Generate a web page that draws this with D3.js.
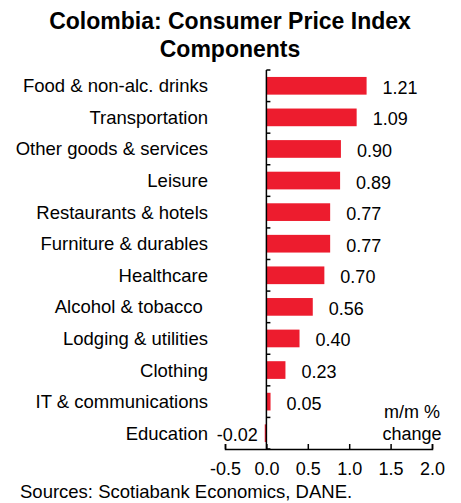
<!DOCTYPE html>
<html lang="en">
<head>
  <meta charset="UTF-8">
  <title>Colombia CPI Components</title>
  <script src="https://d3js.org/d3.v7.min.js"></script>
  <style>
    body { margin: 0; background: #fff; font-family: "Liberation Sans", Arial, sans-serif; }
    svg text { fill: #000; white-space: pre; }
  </style>
</head>
<body>
  <svg id="chart" width="461" height="503"></svg>
  <script>
    const categories = [
      'Food & non-alc. drinks', 'Transportation', 'Other goods & services', 'Leisure',
      'Restaurants & hotels', 'Furniture & durables', 'Healthcare', 'Alcohol & tobacco ',
      'Lodging & utilities', 'Clothing', 'IT & communications', 'Education'
    ];
    const values = [1.21, 1.09, 0.90, 0.89, 0.77, 0.77, 0.70, 0.56, 0.40, 0.23, 0.05, -0.02];
    const xTicks = [-0.5, 0, 0.5, 1.0, 1.5, 2.0];

    const svg = d3.select('#chart');
    const x = d3.scaleLinear().domain([-0.5, 2.0]).range([225, 432]);
    const y = d3.scaleBand().domain(categories).range([70, 449]).paddingInner(0.44).paddingOuter(0.22);
    const fmt = d => d3.format('.2f')(d).replace('−', '-');

    // title
    svg.append('text').attr('x', 230).attr('y', 29).attr('text-anchor', 'middle')
      .style('font-size', '23px').style('font-weight', 'bold').text('Colombia: Consumer Price Index');
    svg.append('text').attr('x', 230).attr('y', 57).attr('text-anchor', 'middle')
      .style('font-size', '23px').style('font-weight', 'bold').text('Components');

    // bars
    svg.selectAll('rect.bar').data(values).join('rect')
      .attr('class', 'bar')
      .attr('x', d => x(Math.min(0, d)))
      .attr('width', d => Math.abs(x(d) - x(0)))
      .attr('y', (d, i) => y(categories[i]))
      .attr('height', y.bandwidth())
      .attr('fill', '#ed1c2e');

    // value labels
    svg.selectAll('text.val').data(values).join('text')
      .attr('class', 'val')
      .attr('x', d => d >= 0 ? x(d) + 16 : x(d) - 7)
      .attr('y', (d, i) => y(categories[i]) + y.bandwidth() / 2 + 8)
      .attr('text-anchor', d => d >= 0 ? 'start' : 'end')
      .style('font-size', '18px')
      .text(fmt);

    // category labels
    svg.selectAll('text.cat').data(categories).join('text')
      .attr('class', 'cat')
      .attr('x', 208)
      .attr('y', d => y(d) + y.bandwidth() / 2 + 6.5)
      .attr('text-anchor', 'end')
      .style('font-size', '18.5px')
      .text(d => d);

    // y axis (ticks at category boundaries, pointing right)
    const bounds = d3.range(categories.length + 1).map(i => 70 + i * (379 / categories.length));
    svg.append('line').attr('x1', x(0)).attr('x2', x(0)).attr('y1', 70).attr('y2', 449)
      .attr('stroke', '#000').attr('stroke-width', 1.5);
    svg.selectAll('line.ytick').data(bounds).join('line')
      .attr('class', 'ytick')
      .attr('x1', x(0)).attr('x2', x(0) + 4)
      .attr('y1', d => d).attr('y2', d => d)
      .attr('stroke', '#000').attr('stroke-width', 1.5);

    // x axis
    const xAxis = svg.append('g').attr('transform', 'translate(0,449)')
      .call(d3.axisBottom(x).tickValues(xTicks).tickSize(-5).tickPadding(13)
        .tickFormat(d => d3.format('.1f')(d).replace('−', '-')));
    xAxis.select('.domain').attr('stroke', '#000').attr('stroke-width', 1.5);
    xAxis.selectAll('.tick line').attr('stroke', '#000').attr('stroke-width', 1.5);
    xAxis.selectAll('.tick text').style('font-size', '18px')
      .style('font-family', '"Liberation Sans", Arial, sans-serif').attr('fill', '#000');

    // unit note
    svg.append('text').attr('x', 412).attr('y', 418).attr('text-anchor', 'middle')
      .style('font-size', '18px').text('m/m %');
    svg.append('text').attr('x', 412).attr('y', 440).attr('text-anchor', 'middle')
      .style('font-size', '18px').text('change');

    // source
    svg.append('text').attr('x', 20).attr('y', 498)
      .style('font-size', '18.5px').text('Sources: Scotiabank Economics, DANE.');
  </script>
</body>
</html>
